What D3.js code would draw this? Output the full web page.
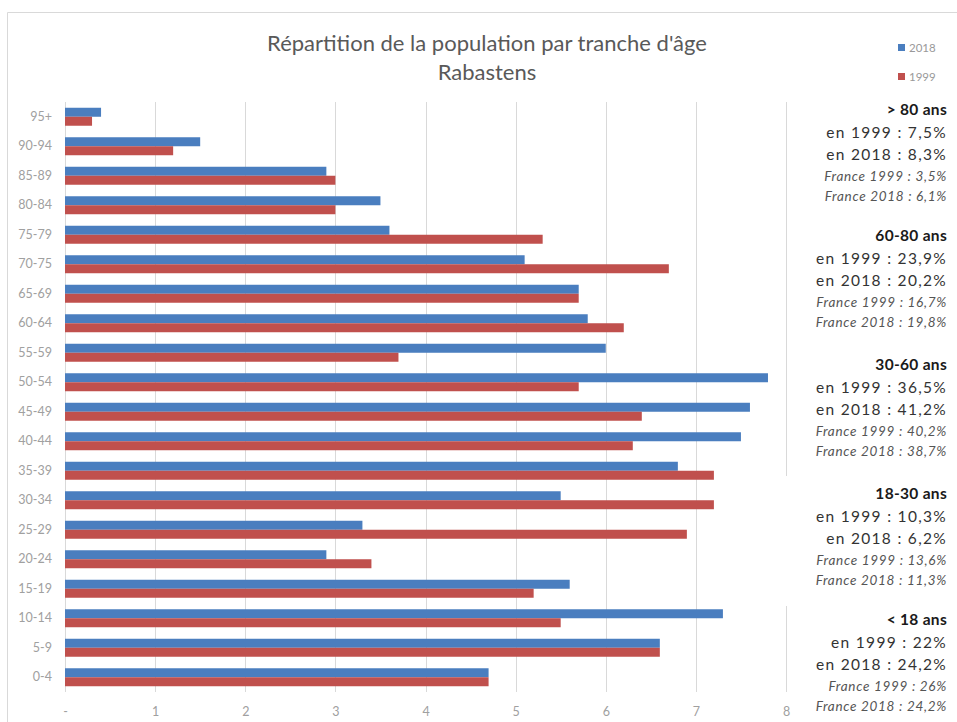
<!DOCTYPE html>
<html>
<head>
<meta charset="utf-8">
<script src="https://cdn.jsdelivr.net/npm/d3@7"></script>
<style>
  html, body { margin: 0; padding: 0; background: #fff; }
  svg { display: block; font-family: Lato, "Open Sans", sans-serif; }
</style>
</head>
<body>
<svg id="chart" width="957" height="722"></svg>
<script>
// Age groups, listed from the top of the chart to the bottom
const ageGroups = ["95+", "90-94", "85-89", "80-84", "75-79", "70-75", "65-69", "60-64",
  "55-59", "50-54", "45-49", "40-44", "35-39", "30-34", "25-29", "20-24",
  "15-19", "10-14", "5-9", "0-4"];

// Share of the population (%) per age group
const values2018 = [0.4, 1.5, 2.9, 3.5, 3.6, 5.1, 5.7, 5.8, 6.0, 7.8, 7.6, 7.5, 6.8, 5.5, 3.3, 2.9, 5.6, 7.3, 6.6, 4.7];
const values1999 = [0.3, 1.2, 3.0, 3.0, 5.3, 6.7, 5.7, 6.2, 3.7, 5.7, 6.4, 6.3, 7.2, 7.2, 6.9, 3.4, 5.2, 5.5, 6.6, 4.7];

const seriesNames = ["2018", "1999"];
const seriesColors = ["#4a7ebf", "#c0504d"];

const xTicks = [0, 1, 2, 3, 4, 5, 6, 7, 8];
const xTickLabels = ["-", "1", "2", "3", "4", "5", "6", "7", "8"];

// Summary notes by broad age bracket
const bracketTitles = ["> 80 ans", "60-80 ans", "30-60 ans", "18-30 ans", "< 18 ans"];
const local1999 = ["7,5%", "23,9%", "36,5%", "10,3%", "22%"];
const local2018 = ["8,3%", "20,2%", "41,2%", "6,2%", "24,2%"];
const france1999 = ["3,5%", "16,7%", "40,2%", "13,6%", "26%"];
const france2018 = ["6,1%", "19,8%", "38,7%", "11,3%", "24,2%"];

const svg = d3.select("#chart");

// Chart frame
svg.append("path")
  .attr("d", "M7.5,722 L7.5,12.5 L957,12.5")
  .attr("fill", "none")
  .attr("stroke", "#d9d9d9")
  .attr("stroke-width", 1);

const plotTop = 102, plotBottom = 692, plotLeft = 65, plotRight = 786;

const x = d3.scaleLinear().domain([0, 8]).range([plotLeft, plotRight]);
const y = d3.scaleBand().domain(ageGroups).range([plotTop, plotBottom])
  .paddingInner(0.39).paddingOuter(0.195);
const ySub = d3.scaleBand().domain(seriesNames).range([0, y.bandwidth()]);

// Vertical gridlines
svg.append("g")
  .selectAll("line")
  .data(xTicks)
  .join("line")
  .attr("x1", d => Math.round(x(d)) + 0.5)
  .attr("x2", d => Math.round(x(d)) + 0.5)
  .attr("y1", plotTop)
  .attr("y2", plotBottom)
  .attr("stroke", "#d9d9d9")
  .attr("stroke-width", 1);

// Bars
const rows = ageGroups.map((g, i) => ({ group: g, values: [values2018[i], values1999[i]] }));
const rowG = svg.append("g").selectAll("g")
  .data(rows)
  .join("g")
  .attr("transform", d => `translate(0,${y(d.group)})`);

rowG.selectAll("rect")
  .data(d => d.values.map((v, k) => ({ v, k })))
  .join("rect")
  .attr("x", x(0))
  .attr("y", d => ySub(seriesNames[d.k]))
  .attr("width", d => x(d.v) - x(0))
  .attr("height", ySub.bandwidth())
  .attr("fill", d => seriesColors[d.k]);

// Category axis labels
const yAxis = d3.axisLeft(y).tickSize(0).tickPadding(0);
const yG = svg.append("g").attr("transform", "translate(52,0)").call(yAxis);
yG.select(".domain").remove();
yG.selectAll("text")
  .attr("fill", "#a0a0a0")
  .style("font-size", "12.5px")
  .style("font-family", "Lato, sans-serif");

// Value axis labels
const xAxis = d3.axisBottom(x).tickValues(xTicks).tickFormat((d, i) => xTickLabels[i]).tickSize(0).tickPadding(0);
const xG = svg.append("g").attr("transform", "translate(0,707)").call(xAxis);
xG.select(".domain").remove();
xG.selectAll("text")
  .attr("fill", "#a0a0a0")
  .style("font-size", "12.5px")
  .style("font-family", "Lato, sans-serif");

// Title
const title = svg.append("g").attr("fill", "#595959")
  .style("font-size", "22px").attr("text-anchor", "middle");
title.append("text").attr("x", 487).attr("y", 51).text("Répartition de la population par tranche d'âge");
title.append("text").attr("x", 487).attr("y", 80).text("Rabastens");

// Legend
const legend = svg.append("g").selectAll("g")
  .data(seriesNames)
  .join("g")
  .attr("transform", (d, i) => `translate(898,${44 + i * 29})`);
legend.append("rect")
  .attr("width", 7).attr("height", 7)
  .attr("fill", (d, i) => seriesColors[i]);
legend.append("text")
  .attr("x", 11).attr("y", 7.5)
  .attr("fill", "#999")
  .style("font-size", "11.5px")
  .text(d => d);

// Notes panel on the right
const notesRight = 947;
const blockTops = [110, 236, 365, 494, 620];

// White backing behind the 18-30 note, over the last gridline
svg.append("rect")
  .attr("x", 770).attr("y", 476).attr("width", 187).attr("height", 130)
  .attr("fill", "#fff");

const notes = svg.append("g").attr("text-anchor", "end");
bracketTitles.forEach((t, i) => {
  const top = blockTops[i];
  const b = notes.append("g");
  b.append("text").attr("x", notesRight).attr("y", top + 5)
    .attr("fill", "#1a1a1a").style("font-size", "15.5px").style("font-weight", "bold")
    .style("letter-spacing", "0.3px")
    .text(t);
  b.append("text").attr("x", notesRight).attr("y", top + 28)
    .attr("fill", "#333").style("font-size", "15.5px").style("letter-spacing", "1.3px")
    .text(`en 1999 : ${local1999[i]}`);
  b.append("text").attr("x", notesRight).attr("y", top + 50)
    .attr("fill", "#333").style("font-size", "15.5px").style("letter-spacing", "1.3px")
    .text(`en 2018 : ${local2018[i]}`);
  b.append("text").attr("x", notesRight).attr("y", top + 71)
    .attr("fill", "#555").style("font-size", "13.5px").style("font-style", "italic")
    .style("letter-spacing", "0.7px")
    .text(`France 1999 : ${france1999[i]}`);
  b.append("text").attr("x", notesRight).attr("y", top + 91)
    .attr("fill", "#555").style("font-size", "13.5px").style("font-style", "italic")
    .style("letter-spacing", "0.7px")
    .text(`France 2018 : ${france2018[i]}`);
});
</script>
</body>
</html>
